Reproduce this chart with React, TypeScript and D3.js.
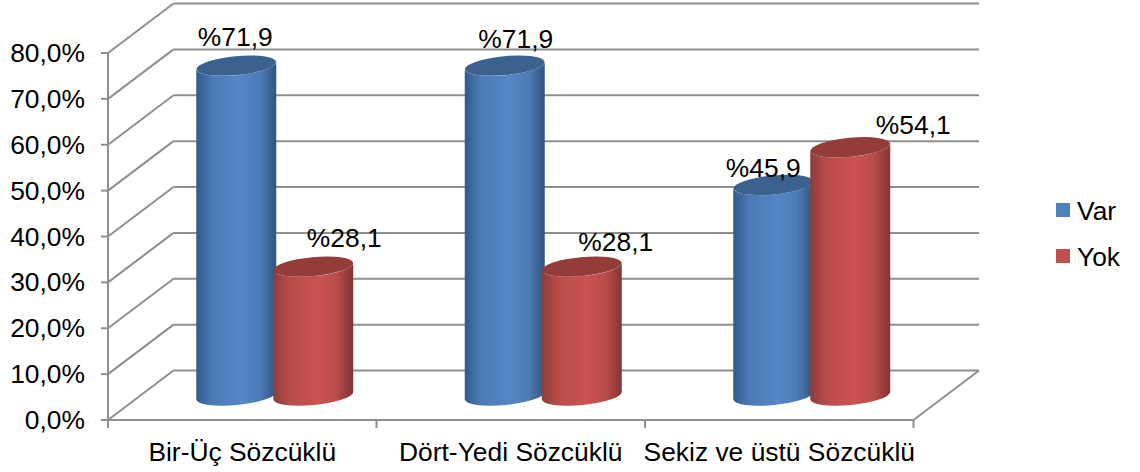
import React from "react";
import * as d3 from "d3";

const categories = ["Bir-Üç Sözcüklü", "Dört-Yedi Sözcüklü", "Sekiz ve üstü Sözcüklü"];
const seriesNames = ["Var", "Yok"];
const varValues = [71.9, 71.9, 45.9];
const yokValues = [28.1, 28.1, 54.1];
const yTicks = [0, 10, 20, 30, 40, 50, 60, 70, 80];

const FONT = "'Liberation Sans', Arial, sans-serif";
const FS = 26.4;
const GRID = "#8f8f8f";
const DX = 65.5, DY = -49.5;

// [dx, dy] label offsets from each cylinder's top centre
const varLabelOffsets = [[-1, -20], [11, -18], [-10, -8]];
const yokLabelOffsets = [[31, -20], [34, -16], [63, -13]];

const palette = [
  { id: "blue", edgeL: "#315a8a", mid: "#5487c8", edgeR: "#30557f", top: "#3b628f", rim: "#4c7bb6" },
  { id: "red", edgeL: "#8b3d3b", mid: "#cb5250", edgeR: "#7f3534", top: "#933c3a", rim: "#b84c4a" },
];

const x = d3.scaleBand<string>().domain(categories).range([108, 913.5]);
const y = d3.scaleLinear().domain([0, 80]).range([420, 53]);
const BAR_W = 80;
const BASE = 395.5;

function Cylinder({ cx, value, color }: { cx: number; value: number; color: typeof palette[0] }) {
  const top = y(value) + (BASE - 420);
  const rx = BAR_W / 2;
  const tilt = -5.5;
  const ry = 9.5;
  const l = cx - rx, r = cx + rx;
  const yLT = top + 3.8, yRT = top - 3.8, yLB = BASE + 3.8, yRB = BASE - 3.8;
  const body = `M${l},${yLT} L${l},${yLB} A${rx},${ry} ${tilt} 0 0 ${r},${yRB} L${r},${yRT} A${rx},${ry} ${tilt} 0 1 ${l},${yLT} Z`;
  return (
    <g>
      <path d={body} fill={`url(#g-${color.id})`} />
      <ellipse cx={cx} cy={top} rx={rx} ry={ry} transform={`rotate(${tilt} ${cx} ${top})`} fill={color.top} />
    </g>
  );
}

export default function App() {
  const cxs = categories.map((c) => x(c)! + x.bandwidth() / 2 + 32.5);
  const drawOrder = categories.flatMap((_, i) => [
    { cx: cxs[i] - 38.5, v: varValues[i], c: palette[0], off: varLabelOffsets[i] },
    { cx: cxs[i] + 38.5, v: yokValues[i], c: palette[1], off: yokLabelOffsets[i] },
  ]);
  const [x0, x1] = x.range();
  const catTicks = [...categories.map((c) => x(c)!), x1];
  return (
    <svg width={1140} height={472} style={{ position: "absolute", left: 0, top: 0, background: "#fff" }} fontFamily={FONT} fontSize={FS} fill="#000">
      <defs>
        {palette.map((p) => (
          <linearGradient key={p.id} id={`g-${p.id}`} x1="0" x2="1" y1="0" y2="0">
            <stop offset="0" stopColor={p.edgeL} />
            <stop offset="0.2" stopColor={p.rim} />
            <stop offset="0.55" stopColor={p.mid} />
            <stop offset="0.8" stopColor={p.rim} />
            <stop offset="1" stopColor={p.edgeR} />
          </linearGradient>
        ))}
      </defs>
      {yTicks.map((t) => (
        <g key={t} stroke={GRID} strokeWidth={2} fill="none">
          <path d={`M${x0},${y(t)} L${x0 + DX},${y(t) + DY}`} />
          <path d={`M${x0 + DX},${y(t) + DY} L${x1 + DX},${y(t) + DY}`} />
          <path d={`M${x0 - 7},${y(t)} L${x0},${y(t)}`} />
        </g>
      ))}
      <path d={`M${x1},${y(0)} L${x1 + DX},${y(0) + DY}`} stroke={GRID} strokeWidth={2} />
      <path d={`M${x0},${y(80)} L${x0},${y(0)} L${x1},${y(0)}`} stroke={GRID} strokeWidth={2} fill="none" />
      {catTicks.map((t) => (
        <path key={t} d={`M${t},${y(0)} L${t},${y(0) + 8}`} stroke={GRID} strokeWidth={2} />
      ))}
      {yTicks.map((t) => (
        <text key={t} x={85} y={y(t) + 9} textAnchor="end">{`${t.toFixed(1).replace(".", ",")}%`}</text>
      ))}
      {categories.map((c) => (
        <text key={c} x={x(c)! + x.bandwidth() / 2} y={460.5} textAnchor="middle">{c}</text>
      ))}
      {drawOrder.map((d, i) => <Cylinder key={i} cx={d.cx} value={d.v} color={d.c} />)}
      {drawOrder.map((d, i) => (
        <text key={i} x={d.cx + d.off[0]} y={y(d.v) + (BASE - 420) + d.off[1]} textAnchor="middle">{`%${d.v.toFixed(1).replace(".", ",")}`}</text>
      ))}
      {seriesNames.map((s, i) => (
        <g key={s}>
          <rect x={1056} y={203 + i * 46} width={14} height={14} fill={i === 0 ? "#4f81bd" : "#c0504d"} />
          <text x={1077} y={220 + i * 46}>{s}</text>
        </g>
      ))}
    </svg>
  );
}
